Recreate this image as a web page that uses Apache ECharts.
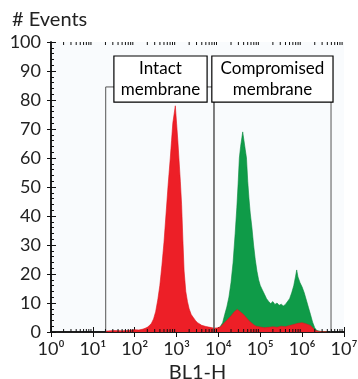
<!DOCTYPE html>
<html>
<head>
<meta charset="utf-8">
<script src="https://cdn.jsdelivr.net/npm/echarts@6/dist/echarts.min.js"></script>
<style>
  html, body { margin: 0; padding: 0; background: #fff; }
  #chart { width: 358px; height: 379px; }
</style>
</head>
<body>
<div id="chart"></div>
<script>
    // x values are log10(BL1-H), y values are # events
    var decades = [0, 1, 2, 3, 4, 5, 6, 7];
    var yTicks = [0, 10, 20, 30, 40, 50, 60, 70, 80, 90, 100];

    var redX = [1.3, 1.5, 1.7, 1.9, 2.0, 2.1, 2.2, 2.25, 2.3, 2.35, 2.4, 2.45, 2.5, 2.55, 2.6, 2.65, 2.7, 2.75, 2.8, 2.85, 2.88, 2.91, 2.94, 2.97, 3.0, 3.03, 3.06, 3.09, 3.12, 3.15, 3.18, 3.22, 3.26, 3.3, 3.35, 3.4, 3.45, 3.5, 3.55, 3.6, 3.7, 3.8, 3.9, 4.0, 4.05, 4.1, 4.15, 4.2, 4.25, 4.3, 4.35, 4.4, 4.45, 4.5, 4.55, 4.6, 4.65, 4.7, 4.75, 4.8, 4.85, 4.9, 5.0, 5.1, 5.2, 5.3, 5.4, 5.5, 5.6, 5.7, 5.8, 5.9, 6.0, 6.1, 6.2, 6.25, 6.3, 6.4, 6.6];
    var redY = [0.3, 0.5, 0.4, 0.6, 0.8, 0.7, 1.0, 1.3, 1.6, 2.2, 3, 4.5, 7, 11, 16, 23, 31, 41, 51, 60, 66, 72, 75, 78, 72, 66, 59, 52, 44, 32, 21, 14, 10.5, 8, 6, 5, 4, 3.2, 2.8, 2.3, 1.9, 1.6, 1.3, 1.5, 1.8, 2.5, 3.3, 4.0, 4.8, 5.5, 6.5, 7.2, 7.8, 7.2, 6.6, 6.0, 5.2, 4.4, 3.6, 3.0, 2.4, 2.0, 1.7, 1.5, 1.6, 1.8, 1.6, 2.0, 1.8, 2.2, 2.6, 3.0, 3.2, 2.8, 2.2, 1.5, 0.6, 0.2, 0.1];

    var greenX = [3.8, 3.9, 4.0, 4.05, 4.1, 4.15, 4.2, 4.25, 4.3, 4.35, 4.4, 4.44, 4.47, 4.5, 4.53, 4.56, 4.58, 4.61, 4.64, 4.67, 4.7, 4.73, 4.76, 4.8, 4.84, 4.88, 4.92, 4.96, 5.0, 5.05, 5.1, 5.15, 5.2, 5.25, 5.3, 5.35, 5.4, 5.45, 5.5, 5.55, 5.6, 5.65, 5.7, 5.75, 5.8, 5.84, 5.87, 5.9, 5.95, 6.0, 6.05, 6.1, 6.15, 6.2, 6.25, 6.3, 6.35, 6.45, 6.6];
    var greenY = [0, 0.8, 1.3, 2.0, 3.2, 6, 8.6, 12, 17, 24, 34, 43, 51, 60, 64, 67, 69, 66, 63, 60, 52, 46, 41, 36, 30, 25, 21, 18, 16, 14.5, 13, 11.5, 10.5, 9.8, 10.5, 9.5, 10, 9.2, 9.6, 9.0, 9.5, 10.5, 11.5, 13.5, 16, 19, 21.4, 19, 17, 15.5, 13.5, 11, 8.5, 6, 3.4, 1.5, 0.5, 0.2, 0.1];

    // gates: [left, right] in log10 units, common height
    var intactGate = [1.307, 3.894];
    var compromisedGate = [3.894, 6.69];
    var gateHeight = 84.5;
    var gateLabels = ['Intact\nmembrane', 'Compromised\nmembrane'];
    var gateLabelPos = [[2.616, 87.2], [5.29, 87.2]];

    var FONT = 'Lato';
    var sup = ['\u2070', '\u00b9', '\u00b2', '\u00b3', '\u2074', '\u2075', '\u2076', '\u2077'];

    function pairs(xs, ys) {
        var out = [];
        for (var i = 0; i < xs.length; i++) out.push([xs[i], ys[i]]);
        return out;
    }
    function gatePath(g) {
        return [[g[0], 0], [g[0], gateHeight], [g[1], gateHeight], [g[1], 0]];
    }
    // minor ticks of a log axis: log10(2..9) inside every decade
    var minorTicks = [];
    for (var d = 0; d < 7; d++) {
        for (var k = 2; k <= 9; k++) minorTicks.push([d + Math.log10(k), 0]);
    }

    var myChart = echarts.init(document.getElementById('chart'));
    var option = {
        animation: false,
        textStyle: { fontFamily: FONT },
        title: {
            text: '# Events', left: 7, top: 5,
            textStyle: { fontFamily: FONT, fontSize: 20, fontWeight: 'normal', color: '#222' }
        },
        grid: {
            left: 51, right: 14, top: 42, bottom: 47, outerBoundsMode: 'none',
            show: true, backgroundColor: '#f9fbfd', borderWidth: 0
        },
        xAxis: [{
            type: 'value', min: 0, max: 7, interval: 1, position: 'bottom',
            axisLine: { lineStyle: { color: '#111', width: 1.5 } },
            axisTick: { inside: true, length: 5, lineStyle: { color: '#111' } },
            splitLine: { show: false },
            axisLabel: {
                margin: 8, color: '#222',
                formatter: function (v) { return '{b|10}{s|' + sup[v] + '}'; },
                rich: {
                    b: { fontFamily: FONT, fontSize: 18, color: '#222' },
                    s: { fontFamily: FONT, fontSize: 18, color: '#222' }
                }
            },
            name: 'BL1-H', nameLocation: 'middle', nameGap: 29,
            nameTextStyle: { fontFamily: FONT, fontSize: 20, color: '#222' }
        }, {
            type: 'value', min: 0, max: 7, interval: 1, position: 'top',
            axisLine: { lineStyle: { color: '#111', width: 1.5 } },
            axisTick: { inside: true, length: 5, lineStyle: { color: '#111' } },
            axisLabel: { show: false }, splitLine: { show: false }
        }],
        yAxis: [{
            type: 'value', min: 0, max: 100, interval: 10, position: 'left',
            axisLine: { show: true, lineStyle: { color: '#111', width: 1.5 } },
            axisTick: { show: true, inside: true, length: 5, lineStyle: { color: '#111' } },
            minorTick: { show: true, splitNumber: 5, length: 3, lineStyle: { color: '#111' } },
            splitLine: { show: false },
            axisLabel: { margin: 10, fontSize: 18, color: '#222', fontFamily: FONT }
        }, {
            type: 'value', min: 0, max: 100, interval: 10, position: 'right',
            axisLine: { show: true, lineStyle: { color: '#111', width: 1.5 } },
            axisTick: { show: true, inside: true, length: 4, lineStyle: { color: '#111' } },
            axisLabel: { show: false }, splitLine: { show: false }
        }],
        series: [
            {
                name: 'compromised', type: 'line', data: pairs(greenX, greenY),
                symbol: 'none', z: 2,
                lineStyle: { color: '#0b8a40', width: 0.6 },
                areaStyle: { color: '#0f9b48', opacity: 1 }
            },
            {
                name: 'intact', type: 'line', data: pairs(redX, redY),
                symbol: 'none', z: 3,
                lineStyle: { color: '#e0141c', width: 0.6 },
                areaStyle: { color: '#ed1f27', opacity: 1 }
            },
            {
                type: 'line', data: gatePath(intactGate), symbol: 'none', z: 4,
                lineStyle: { color: '#555', width: 1 }
            },
            {
                type: 'line', data: gatePath(compromisedGate), symbol: 'none', z: 4,
                lineStyle: { color: '#555', width: 1 }
            },
            {
                type: 'custom', z: 5, data: minorTicks,
                renderItem: function (params, api) {
                    var p = api.coord([api.value(0), 0]);
                    var top = params.coordSys.y;
                    return {
                        type: 'group', children: [
                            { type: 'line', shape: { x1: p[0], y1: p[1], x2: p[0], y2: p[1] - 3 }, style: { stroke: '#111', lineWidth: 1 } },
                            { type: 'line', shape: { x1: p[0], y1: top, x2: p[0], y2: top + 3 }, style: { stroke: '#111', lineWidth: 1 } }
                        ]
                    };
                }
            },
            {
                type: 'scatter', z: 6, symbolSize: 0, itemStyle: { color: 'transparent' },
                data: [
                    { value: gateLabelPos[0], label: { formatter: gateLabels[0], width: 92 } },
                    { value: gateLabelPos[1], label: { formatter: gateLabels[1], width: 120 } }
                ],
                label: {
                    show: true, position: 'inside', fontSize: 17, fontFamily: FONT, color: '#000', opacity: 1,
                    backgroundColor: '#fff', borderColor: '#000', borderWidth: 1.2,
                    height: 45, lineHeight: 21, align: 'center', verticalAlign: 'middle', padding: 0
                }
            }
        ]
    };
    myChart.setOption(option);
</script>
</body>
</html>
